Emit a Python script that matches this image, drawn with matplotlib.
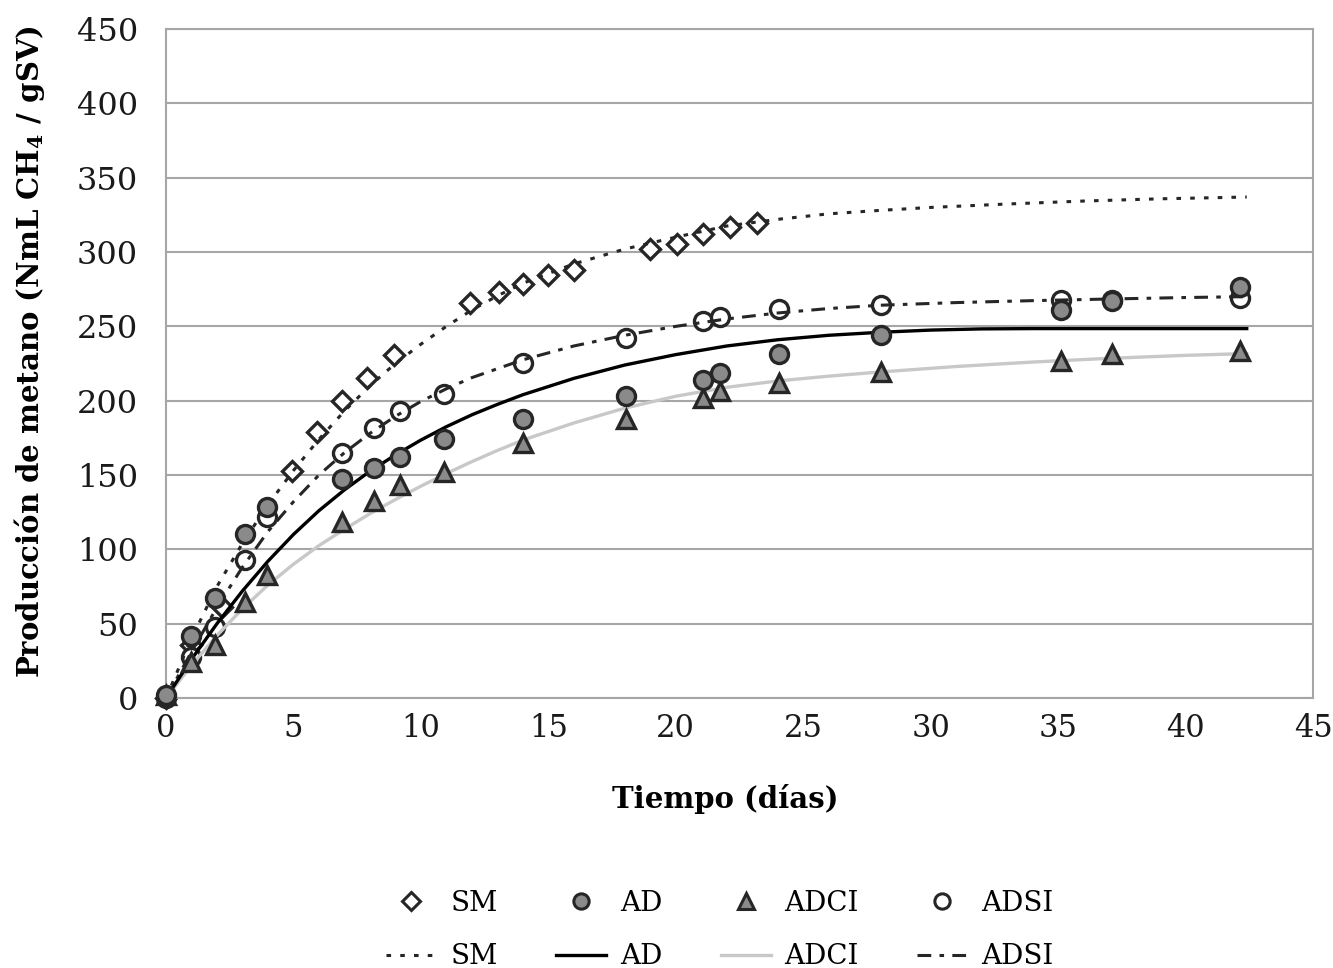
import matplotlib
matplotlib.use('Agg')
import matplotlib.pyplot as plt

plt.rcParams['font.family'] = ['DejaVu Serif']
plt.rcParams['mathtext.fontset'] = 'dejavuserif'

# measured points
sm_x = [0, 1.0, 2.2, 4.93, 5.92, 6.9, 7.88, 8.93, 11.94, 13.05, 14.0, 15.0, 16.0, 18.97, 20.05, 21.07, 22.14, 23.2]
sm_y = [0, 36, 61, 152.5, 178.7, 200, 215.6, 230.9, 266, 273.4, 278.3, 284.6, 288, 301.8, 305.2, 311.9, 316.8, 319.7]

dias = [0, 1.0, 1.92, 3.1, 3.98, 6.92, 8.17, 9.19, 10.9, 14.0, 18.05, 21.06, 21.75, 24.05, 28.05, 35.1, 37.1, 42.15]
ad_y = [2, 41.5, 67, 110, 128.5, 147, 155, 162, 174.5, 188, 203, 214, 218.8, 231.5, 244.3, 260.8, 266.8, 276.3]
adci_y = [2, 24, 35.6, 64.6, 82.6, 118.3, 132.4, 143.6, 152, 171.3, 187.7, 201.5, 206.7, 211.6, 219, 226.4, 231.3, 233.6]
adsi_y = [0, 27.5, 47.8, 93, 122, 164.8, 181.3, 193, 204.6, 225.3, 242.5, 253.7, 256.4, 261.5, 264.2, 267.6, 268, 269.3]

# fitted curves
sm_fx = [0, 1, 2, 3, 4, 5, 6, 7, 8, 9, 10, 11, 12, 13, 14, 16, 18, 20, 22, 24, 26, 28, 30, 33, 36, 39, 42.4]
sm_fy = [0, 40, 75, 104, 130, 153, 174, 193, 210, 225, 238, 250, 261, 270.5, 279, 292, 302, 310, 317.5, 322, 325.7, 328, 330, 332.3, 334.3, 335.8, 337]

ad_fx = [0, 1, 2, 3, 4, 5, 6, 7, 8, 9, 10, 11, 12, 13, 14, 16, 18, 20, 22, 24, 26, 28, 30, 32, 34, 42.4]
ad_fy = [0, 26, 50, 72, 92, 110, 126, 140, 152.5, 163.5, 173.5, 182.5, 190.5, 197.5, 204, 215, 224, 231, 236.8, 241, 244, 246, 247.5, 248.3, 248.5, 248.5]

adci_fx = [0, 1, 2, 3, 4, 5, 6, 7, 8, 9, 10, 11, 12, 13, 14, 16, 18, 20, 22, 24, 26, 28, 31, 34, 37, 40, 42.4]
adci_fy = [0, 22, 42, 60, 76, 90, 102.5, 113.5, 124, 133.5, 142.5, 151, 159, 166.5, 173.5, 185, 195, 203, 209, 213.3, 216.5, 219.3, 223, 226, 228.5, 230.5, 231.7]

adsi_fx = [0, 1, 2, 3, 4, 5, 6, 7, 8, 9, 10, 11, 12, 14, 16, 18, 20, 22, 24, 26, 28, 31, 34, 37, 40, 42.4]
adsi_fy = [0, 31, 61, 88, 112, 132, 150, 165, 178, 189.5, 199.5, 208, 215.5, 227.5, 236.8, 244, 250, 255, 259, 262, 264.2, 266, 267.3, 268.4, 269.4, 270]

edge = '#262626'
fill = '#8a8a8a'

fig = plt.figure(figsize=(13.33, 9.68), dpi=100)
ax = fig.add_axes([0.1245, 0.2789, 0.8605, 0.6911])

ax.plot(sm_x, sm_y, ls='none', marker='D', ms=10.5, mfc='white', mec=edge, mew=2.4, zorder=2, clip_on=False)
ax.plot(dias, adsi_y, ls='none', marker='o', ms=13, mfc='white', mec=edge, mew=2.4, zorder=2, clip_on=False)
ax.plot(sm_fx, sm_fy, color=edge, lw=2.2, ls=(0, (1.5, 3)), zorder=3)
ax.plot(adsi_fx, adsi_fy, color=edge, lw=2.2, ls=(0, (4.5, 2.7, 1.5, 2.7)), zorder=3)
ax.plot(adci_fx, adci_fy, color='#c8c8c8', lw=2.4, zorder=3)
ax.plot(ad_fx, ad_fy, color='black', lw=2.4, zorder=3)
ax.plot(dias, adci_y, ls='none', marker='^', ms=13.5, mfc=fill, mec=edge, mew=2.4, zorder=4, clip_on=False)
ax.plot(dias, ad_y, ls='none', marker='o', ms=13, mfc=fill, mec=edge, mew=2.4, zorder=4, clip_on=False)

ax.set_xlim(0, 45)
ax.set_ylim(0, 450)
ax.set_xticks(range(0, 46, 5))
ax.set_yticks(range(0, 451, 50))
ax.yaxis.grid(True, color='#a6a6a6', lw=1.5)
ax.set_axisbelow(True)
for s in ax.spines.values():
    s.set_color('#a6a6a6')
    s.set_linewidth(1.5)
ax.tick_params(axis='both', length=0, labelsize=23, colors='#1a1a1a')
ax.tick_params(axis='x', pad=11, labelsize=22)
ax.tick_params(axis='y', pad=20)

ax.set_xlabel('Tiempo (días)', fontsize=21, fontweight='bold')
ax.xaxis.set_label_coords(0.488, -0.128)
ax.set_ylabel(r'Producción de metano (NmL CH$_\mathbf{4}$ / gSV)', fontsize=21, fontweight='bold')
ax.yaxis.set_label_coords(-0.104, 0.517)

handles = [
    plt.Line2D([], [], ls='none', marker='D', ms=9, mfc='white', mec=edge, mew=2.2),
    plt.Line2D([], [], color=edge, lw=2.2, ls=(0, (1.5, 3))),
    plt.Line2D([], [], ls='none', marker='o', ms=11, mfc=fill, mec=edge, mew=2.2),
    plt.Line2D([], [], color='black', lw=2.4),
    plt.Line2D([], [], ls='none', marker='^', ms=11, mfc=fill, mec=edge, mew=2.2),
    plt.Line2D([], [], color='#c8c8c8', lw=2.4),
    plt.Line2D([], [], ls='none', marker='o', ms=11, mfc='white', mec=edge, mew=2.2),
    plt.Line2D([], [], color=edge, lw=2.2, ls=(0, (4.5, 2.7, 1.5, 2.7))),
]
labels = ['SM', 'SM', 'AD', 'AD', 'ADCI', 'ADCI', 'ADSI', 'ADSI']
fig.legend(handles, labels, loc='center', bbox_to_anchor=(0.540, 0.039), ncol=4,
           frameon=False, fontsize=20, handlelength=1.8, handletextpad=0.5,
           columnspacing=2.1, labelspacing=0.95, borderpad=0)

fig.savefig('out.png', dpi=100)
